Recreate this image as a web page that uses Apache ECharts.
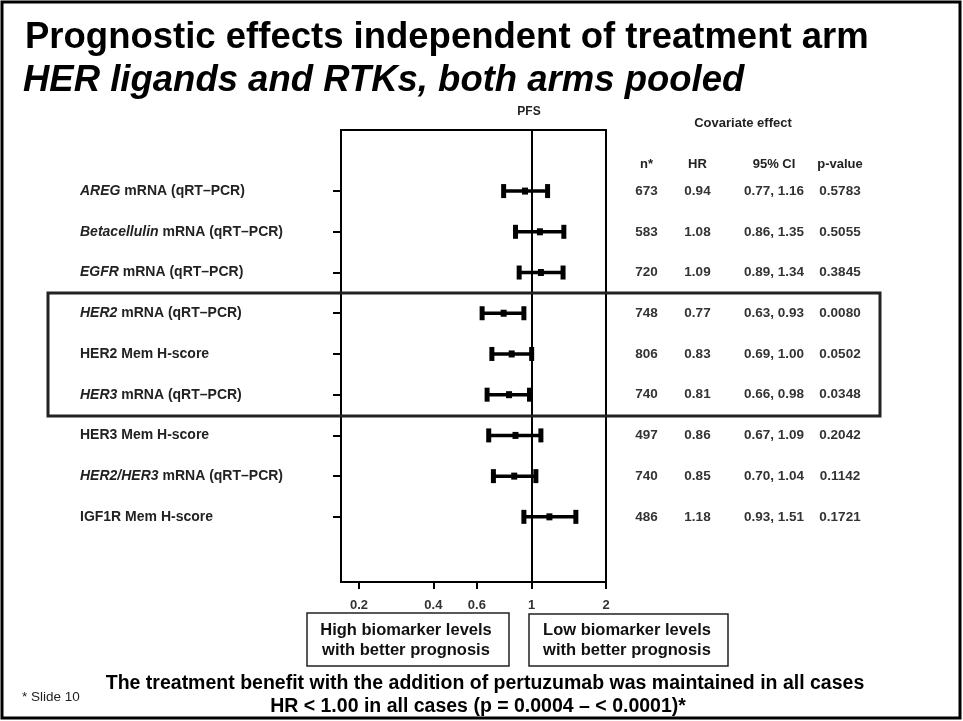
<!DOCTYPE html>
<html>
<head>
<meta charset="utf-8">
<script src="https://cdn.jsdelivr.net/npm/echarts@6/dist/echarts.min.js"></script>
<style>
html,body{margin:0;padding:0;background:#fff;}
#chart{width:963px;height:721px;}
</style>
</head>
<body>
<div id="chart"></div>
<script>
// ---- data ----
const labelItalic = ['AREG', 'Betacellulin', 'EGFR', 'HER2', '', 'HER3', '', 'HER2/HER3', ''];
const labelPlain = [' mRNA (qRT\u2013PCR)', ' mRNA (qRT\u2013PCR)', ' mRNA (qRT\u2013PCR)', ' mRNA (qRT\u2013PCR)',
  'HER2 Mem H-score', ' mRNA (qRT\u2013PCR)', 'HER3 Mem H-score', ' mRNA (qRT\u2013PCR)', 'IGF1R Mem H-score'];
const nValues = [673, 583, 720, 748, 806, 740, 497, 740, 486];
const hrValues = [0.94, 1.08, 1.09, 0.77, 0.83, 0.81, 0.86, 0.85, 1.18];
const ciLow = [0.77, 0.86, 0.89, 0.63, 0.69, 0.66, 0.67, 0.70, 0.93];
const ciHigh = [1.16, 1.35, 1.34, 0.93, 1.00, 0.98, 1.09, 1.04, 1.51];
const pValues = ['0.5783', '0.5055', '0.3845', '0.0080', '0.0502', '0.0348', '0.2042', '0.1142', '0.1721'];
const xTicks = [0.2, 0.4, 0.6, 1, 2];
const tableHeaders = ['n*', 'HR', '95% CI', 'p-value'];

// ---- build ----
const FONT = '"Liberation Sans", Arial, sans-serif';
const L = Math.log10;
const rowIdx = hrValues.map((_, i) => i);
const xMin = L(0.169), xMax = L(2);
const fmt2 = v => v.toFixed(2);

const errData = rowIdx.map(i => [i, L(ciLow[i]), L(hrValues[i]), L(ciHigh[i])]);
const tableData = rowIdx.map(i => [xMax, i]);
const colOffsets = [40.5, 91.5, 168, 234];

const chart = echarts.init(document.getElementById('chart'), null, {renderer: 'canvas'});

const option = {
  backgroundColor: '#fff',
  animation: false,
  grid: {
    left: 341, right: 357, top: 130, bottom: 139,
    show: true, borderColor: '#000', borderWidth: 2,
    containLabel: false, outerBoundsMode: 'none'
  },
  xAxis: {
    type: 'value', min: xMin, max: xMax, position: 'bottom',
    axisLine: {show: false, onZero: false},
    splitLine: {show: false},
    axisTick: {show: true, inside: false, length: 7, customValues: xTicks.map(L),
      lineStyle: {color: '#000', width: 2}},
    axisLabel: {show: true, customValues: xTicks.map(L), margin: 17,
      formatter: v => String(Number(Math.pow(10, v).toPrecision(2))),
      fontFamily: FONT, fontWeight: 'bold', fontSize: 13, color: '#333'}
  },
  yAxis: {
    type: 'value', min: -1.5, max: 9.6, inverse: true, position: 'left',
    axisLine: {show: false, onZero: false},
    splitLine: {show: false},
    axisTick: {show: true, inside: false, length: 8, customValues: rowIdx,
      lineStyle: {color: '#000', width: 2}},
    axisLabel: {show: true, customValues: rowIdx, margin: 261, align: 'left',
      formatter: v => {
        const i = Math.round(v);
        let s = '';
        if (labelItalic[i]) s += '{i|' + labelItalic[i] + '}';
        s += '{n|' + labelPlain[i] + '}';
        return s;
      },
      rich: {
        i: {fontFamily: FONT, fontWeight: 'bold', fontStyle: 'italic', fontSize: 14, color: '#222'},
        n: {fontFamily: FONT, fontWeight: 'bold', fontSize: 14, color: '#222'}
      }
    }
  },
  series: [
    {
      type: 'custom',
      clip: false,
      data: errData,
      encode: {x: [1, 2, 3], y: 0},
      renderItem: function (params, api) {
        const i = api.value(0);
        const pL = api.coord([api.value(1), i]);
        const pM = api.coord([api.value(2), i]);
        const pH = api.coord([api.value(3), i]);
        return {
          type: 'group',
          children: [
            {type: 'line', shape: {x1: pL[0], y1: pL[1], x2: pH[0], y2: pH[1]},
              style: {stroke: '#000', lineWidth: 3.5}},
            {type: 'rect', shape: {x: pL[0] - 2.5, y: pL[1] - 7, width: 5, height: 14}, style: {fill: '#000'}},
            {type: 'rect', shape: {x: pH[0] - 2.5, y: pH[1] - 7, width: 5, height: 14}, style: {fill: '#000'}},
            {type: 'rect', shape: {x: pM[0] - 3, y: pM[1] - 3.5, width: 6, height: 7}, style: {fill: '#000'}}
          ]
        };
      },
      markLine: {
        silent: true, symbol: ['none', 'none'],
        label: {show: false},
        lineStyle: {color: '#000', width: 2, type: 'solid'},
        data: [{xAxis: L(1)}]
      },
      z: 5
    },
    {
      type: 'custom',
      clip: false,
      data: tableData,
      encode: {x: 0, y: 1},
      renderItem: function (params, api) {
        const k = params.dataIndex;
        const p = api.coord([api.value(0), api.value(1)]);
        const vals = [String(nValues[k]), fmt2(hrValues[k]),
          fmt2(ciLow[k]) + ', ' + fmt2(ciHigh[k]), pValues[k]];
        return {
          type: 'group',
          children: vals.map((t, c) => ({
            type: 'text', x: p[0] + colOffsets[c], y: p[1],
            style: {text: t, font: 'bold 13.5px ' + FONT, fill: '#333', align: 'center', verticalAlign: 'middle'}
          }))
        };
      }
    }
  ],
  graphic: [
    {type: 'rect', shape: {x: 2, y: 2, width: 958, height: 716},
      style: {fill: 'none', stroke: '#000', lineWidth: 3}, z: 100},
    {type: 'text', x: 25, y: 38,
      style: {text: 'Prognostic effects independent of treatment arm', font: 'bold 36.5px ' + FONT,
        fill: '#000', verticalAlign: 'middle'}},
    {type: 'text', x: 23, y: 81,
      style: {text: 'HER ligands and RTKs, both arms pooled', font: 'italic bold 36.5px ' + FONT,
        fill: '#000', verticalAlign: 'middle'}},
    {type: 'text', x: 529, y: 112,
      style: {text: 'PFS', font: 'bold 12px ' + FONT, fill: '#222', align: 'center', verticalAlign: 'middle'}},
    {type: 'text', x: 743, y: 123,
      style: {text: 'Covariate effect', font: 'bold 13px ' + FONT, fill: '#222', align: 'center', verticalAlign: 'middle'}},
    ...tableHeaders.map((h, c) => ({
      type: 'text', x: 606 + colOffsets[c], y: 164,
      style: {text: h, font: 'bold 13px ' + FONT, fill: '#222', align: 'center', verticalAlign: 'middle'}
    })),
    {type: 'rect', shape: {x: 48, y: 293, width: 832, height: 123},
      style: {fill: 'none', stroke: '#222', lineWidth: 3}, z: 50},
    {type: 'rect', shape: {x: 307, y: 613, width: 202, height: 53},
      style: {fill: 'none', stroke: '#222', lineWidth: 1.5}},
    {type: 'text', x: 406, y: 640,
      style: {text: 'High biomarker levels\nwith better prognosis', font: 'bold 16.5px ' + FONT,
        lineHeight: 20, fill: '#111', align: 'center', verticalAlign: 'middle'}},
    {type: 'rect', shape: {x: 529, y: 614, width: 199, height: 52},
      style: {fill: 'none', stroke: '#222', lineWidth: 1.5}},
    {type: 'text', x: 627, y: 640,
      style: {text: 'Low biomarker levels\nwith better prognosis', font: 'bold 16.5px ' + FONT,
        lineHeight: 20, fill: '#111', align: 'center', verticalAlign: 'middle'}},
    {type: 'text', x: 485, y: 684,
      style: {text: 'The treatment benefit with the addition of pertuzumab was maintained in all cases',
        font: 'bold 19.5px ' + FONT, fill: '#000', align: 'center', verticalAlign: 'middle'}},
    {type: 'text', x: 478, y: 707,
      style: {text: 'HR < 1.00 in all cases (p = 0.0004 \u2013 < 0.0001)*',
        font: 'bold 19.5px ' + FONT, fill: '#000', align: 'center', verticalAlign: 'middle'}},
    {type: 'text', x: 22, y: 697,
      style: {text: '* Slide 10', font: '13.5px ' + FONT, fill: '#222', verticalAlign: 'middle'}}
  ]
};

chart.setOption(option);
</script>
</body>
</html>
